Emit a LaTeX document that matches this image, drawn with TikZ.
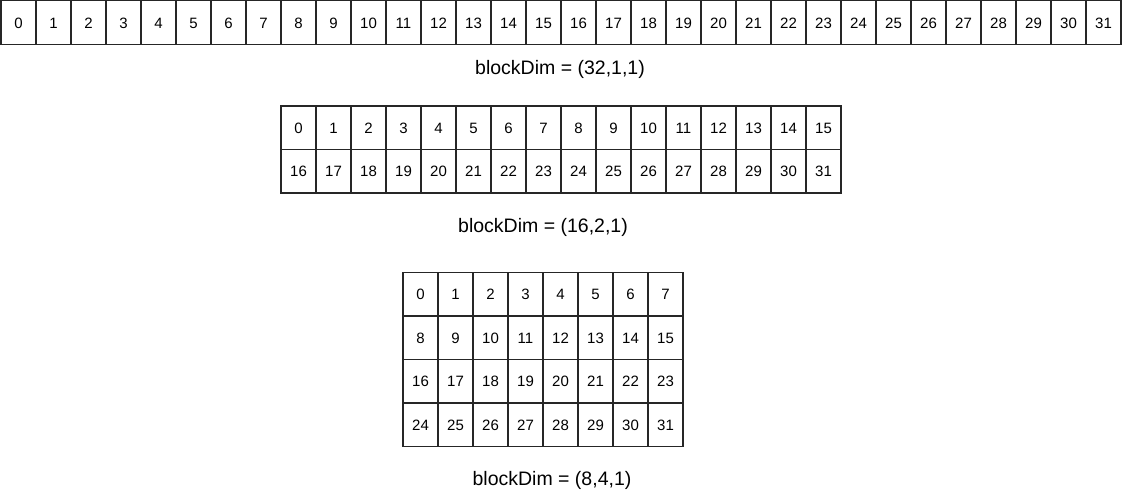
\documentclass[tikz,border=0pt]{standalone}
\usepackage{fontspec}
\setmainfont{Liberation Sans}
\usepackage{tikz}
\usetikzlibrary{positioning}
\tikzset{
    cell/.style={rectangle, draw=black!85, line width=1.3pt, fill=white, minimum width=35pt, minimum height=43.5pt, inner sep=0pt, text height=11pt, text depth=0pt, font=\fontsize{15}{18}\selectfont},
    dimlabel/.style={font=\fontsize{19.5}{23}\selectfont, inner sep=0pt},
}

\begin{document}
\begin{tikzpicture}[x=1pt, y=-1pt]
    \useasboundingbox (0,0) rectangle (1122,490);
    % blockDim = (32,1,1)
    \foreach \n in {0,...,31} {
        \node [cell] (t\n) at ({18.5+35*\n}, 22.5) {\n};
    }
    \node [dimlabel] (lab32) at (560,69) {blockDim = (32,1,1)};
    % blockDim = (16,2,1)
    \foreach \n in {0,...,31} {
        \pgfmathtruncatemacro{\col}{mod(\n,16)}
        \pgfmathtruncatemacro{\row}{int(\n/16)}
        \node [cell] (m\n) at ({298.5+35*\col}, {127.75+43.5*\row}) {\n};
    }
    \node [dimlabel] (lab16) at (543,227) {blockDim = (16,2,1)};
    % blockDim = (8,4,1)
    \foreach \n in {0,...,31} {
        \pgfmathtruncatemacro{\col}{mod(\n,8)}
        \pgfmathtruncatemacro{\row}{int(\n/8)}
        \node [cell] (b\n) at ({420.5+35*\col}, {293.9+43.7*\row}) {\n};
    }
    \node [dimlabel] (lab8) at (552,480) {blockDim = (8,4,1)};
\end{tikzpicture}
\end{document}
